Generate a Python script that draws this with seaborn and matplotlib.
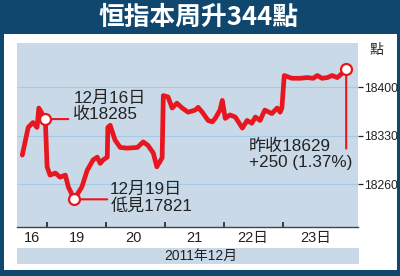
import numpy as np
import pandas as pd
import seaborn as sns
import matplotlib
matplotlib.use("Agg")
import matplotlib.pyplot as plt
from matplotlib.patches import Rectangle

# ---------------- data ----------------
day_pos = [-0.42, -0.32, -0.24, -0.17, -0.14, -0.03,
           0.00, 0.05, 0.14, 0.22, 0.31, 0.36, 0.46, 0.59, 0.68, 0.78, 0.85, 0.90, 0.95, 1.02,
           1.03, 1.07, 1.15, 1.24, 1.36, 1.53, 1.63, 1.71, 1.80, 1.86, 1.95,
           1.97, 2.05, 2.12, 2.20, 2.29, 2.39, 2.51, 2.56, 2.63, 2.73, 2.80, 2.85, 2.93, 2.97, 3.02,
           3.10, 3.19, 3.31, 3.39, 3.47, 3.53, 3.61, 3.69, 3.81, 3.90, 3.95, 3.98,
           4.02, 4.15, 4.29, 4.41, 4.51, 4.58, 4.66, 4.75, 4.83, 4.92, 5.00, 5.07]
hsi = [18302, 18342, 18349, 18342, 18370, 18354,
       18285, 18273, 18276, 18270, 18273, 18256, 18238, 18256, 18280, 18295, 18299, 18290, 18295, 18299,
       18342, 18345, 18324, 18313, 18312, 18313, 18321, 18316, 18305, 18285, 18298,
       18388, 18386, 18370, 18377, 18370, 18364, 18367, 18371, 18364, 18352, 18350, 18355, 18367, 18381, 18355,
       18360, 18357, 18341, 18352, 18348, 18357, 18352, 18367, 18362, 18370, 18364, 18370,
       18417, 18413, 18413, 18414, 18413, 18417, 18413, 18414, 18417, 18414, 18420, 18427]

day_labels = ["16", "19", "20", "21", "22日", "23日"]
day_label_pos = [-0.25, 0.5, 1.46, 2.5, 3.48, 4.56]
day_bounds = [0, 1, 2, 3, 4]
y_ticks = [18260, 18330, 18400]

title = "恒指本周升344點"
unit = "點"
month_label = "2011年12月"
note_close16 = "12月16日\n收18285"
note_low19 = "12月19日\n低見17821"
note_last = "昨收18629\n+250 (1.37%)"
idx_close16 = 5
idx_low19 = 12
idx_last = len(hsi) - 1

# ---------------- style ----------------
DARK = "#10476f"
PLOT_BG = "#c9d9e7"
RED = "#e8161e"
GRID = "#a6c9e6"
TXT = "#222222"

sns.set_style("white")
LAT = ['Liberation Sans', 'Noto Sans CJK TC', 'DejaVu Sans']
plt.rcParams['font.family'] = LAT

W, H = 400, 276
fig = plt.figure(figsize=(W / 100, H / 100), dpi=100, facecolor=DARK)

# white card
fig.add_artist(Rectangle((4 / W, 6 / H), 393 / W, 236 / H, transform=fig.transFigure,
                         facecolor="white", edgecolor="none", zorder=0))
# month band
fig.add_artist(Rectangle((17 / W, 12 / H), 342 / W, 16 / H, transform=fig.transFigure,
                         facecolor=PLOT_BG, edgecolor="none", zorder=0))

ax = fig.add_axes([17 / W, 1 - 227 / H, 341 / W, 184 / H])
ax.set_facecolor(PLOT_BG)

df = pd.DataFrame({"pos": day_pos, "hsi": hsi})
sns.lineplot(data=df, x="pos", y="hsi", ax=ax, color=RED, linewidth=3.4,
             estimator=None, sort=False, zorder=3)

ax.set_xlim(-0.51, 5.27)
ax.set_ylim(18198, 18464)

# grid
ax.set_yticks(y_ticks)
ax.yaxis.grid(True, color=GRID, linewidth=0.8)
ax.xaxis.grid(False)
ax.set_axisbelow(True)

# y ticks on the right
ax.yaxis.tick_right()
ax.tick_params(axis="y", which="major", direction="out", length=3.5, width=0.9,
               color=TXT, pad=1, labelsize=8.8, labelcolor=TXT)

# x ticks: boundaries marked, labels in day centres
ax.set_xticks(day_bounds)
ax.set_xticklabels([""] * len(day_bounds))
ax.tick_params(axis="x", which="major", direction="in", length=3.5, width=1.2,
               color=TXT, bottom=True)
ax.set_xticks(day_label_pos, minor=True)
ax.set_xticklabels(day_labels, minor=True)
ax.tick_params(axis="x", which="minor", length=0, pad=3, labelsize=10.5, labelcolor=TXT)

ax.set_xlabel("")
ax.set_ylabel("")
for s in ["top", "left", "right"]:
    ax.spines[s].set_visible(False)
ax.spines["bottom"].set_color("#444444")
ax.spines["bottom"].set_linewidth(1.0)

# markers
mk_idx = [idx_close16, idx_low19, idx_last]
ax.scatter([day_pos[i] for i in mk_idx], [hsi[i] for i in mk_idx], s=62,
           facecolor="white", edgecolor=RED, linewidth=1.6, zorder=5)

line_kw = dict(arrowstyle="-", color=RED, lw=1.5, shrinkA=0, shrinkB=0)
p16 = (day_pos[idx_close16], hsi[idx_close16])
plow = (day_pos[idx_low19], hsi[idx_low19])
plast = (day_pos[idx_last], hsi[idx_last])

ax.annotate("", xy=p16, xytext=(23, 0), textcoords="offset pixels", arrowprops=line_kw, zorder=2)
ax.annotate("", xy=plow, xytext=(33, 0), textcoords="offset pixels", arrowprops=line_kw, zorder=2)
ax.annotate("", xy=plast, xytext=(0, -80), textcoords="offset pixels", arrowprops=line_kw, zorder=2)

txt_kw = dict(textcoords="offset pixels", ha="left", va="center", fontsize=12.3,
              color=TXT, linespacing=1.05, zorder=6)
ax.annotate(note_close16, xy=p16, xytext=(28, 13), **txt_kw)
ax.annotate(note_low19, xy=plow, xytext=(36, 1.5), **txt_kw)
ax.annotate(note_last, xy=plast, xytext=(-97, -85.5), **txt_kw)

# texts outside axes
fig.text(198.5 / W, 1 - 17.5 / H, title, color="white", fontsize=18.5, fontweight="bold",
         family=['Noto Sans CJK TC', 'DejaVu Sans'], ha="center", va="center")
fig.text(376 / W, 1 - 50 / H, unit, color=TXT, fontsize=10,
         family=['Noto Sans CJK TC', 'DejaVu Sans'], ha="center", va="center")
fig.text(201 / W, 1 - 256 / H, month_label, color=TXT, fontsize=10,
         ha="center", va="center")

fig.savefig("out.png", dpi=100, facecolor=DARK)
